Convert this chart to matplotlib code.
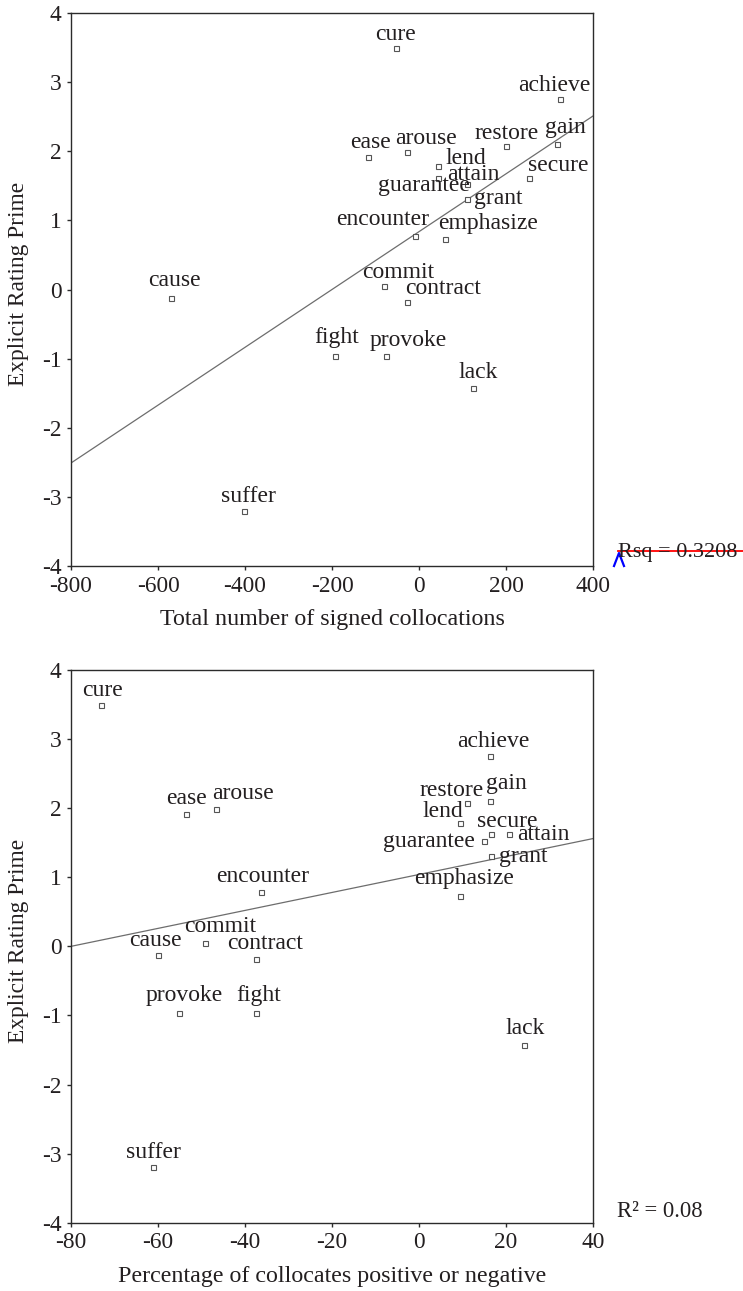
import matplotlib
matplotlib.use("Agg")
import matplotlib.pyplot as plt
from matplotlib.lines import Line2D

# ── data ────────────────────────────────────────────────────────
verbs = ["cure", "achieve", "gain", "restore", "ease", "arouse", "lend",
         "attain", "guarantee", "grant", "secure", "encounter", "emphasize",
         "commit", "contract", "cause", "fight", "provoke", "suffer", "lack"]

rating = [3.5, 2.75, 2.1, 2.07, 1.92, 1.99, 1.79, 1.62, 1.53, 1.31, 1.62,
          0.78, 0.73, 0.05, -0.18, -0.12, -0.96, -0.96, -3.2, -1.43]

total_signed = [-54, 323, 318, 199, -118, -27, 43, 43, 111, 110, 253,
                -10, 60, -80, -27, -570, -194, -75, -403, 124]

pct_collocates = [-73, 16.4, 16.4, 11.1, -53.6, -46.6, 9.4, 20.7, 14.9, 16.5,
                  16.5, -36.3, 9.4, -49.3, -37.5, -60.1, -37.4, -55.2, -61.2, 24.1]

fit_x_top = [-800, 400]
fit_y_top = [-2.51, 2.51]
fit_x_bot = [-80, 40]
fit_y_bot = [0.0, 1.56]

rsq_top = "Rsq = 0.3208"
rsq_bot = "R² = 0.08"

# label offsets (pixels, dx / baseline above marker)
OFF_TOP = {
    "cure": (0, 8), "achieve": (-5, 8), "gain": (8, 11), "restore": (1, 7),
    "ease": (3, 9), "arouse": (19, 8), "lend": (28, 2), "attain": (36, -2),
    "guarantee": (-43, -7), "grant": (31, -5), "secure": (29, 7),
    "encounter": (-32, 11), "emphasize": (43, 10), "commit": (14, 8),
    "contract": (36, 8), "cause": (3, 12), "fight": (2, 13),
    "provoke": (22, 10), "suffer": (5, 9), "lack": (5, 10),
}
OFF_BOT = {
    "cure": (1, 9), "achieve": (3, 9), "gain": (16, 12), "restore": (-16, 7),
    "ease": (1, 10), "arouse": (27, 10), "lend": (-17, 6), "attain": (34, -6),
    "guarantee": (-55, -6), "grant": (32, -6), "secure": (16, 7),
    "encounter": (2, 10), "emphasize": (4, 12), "commit": (16, 11),
    "contract": (9, 10), "cause": (-2, 9), "fight": (2, 12),
    "provoke": (5, 12), "suffer": (1, 9), "lack": (1, 11),
}

W, H = 743, 1291
TXT = "#231f20"
plt.rcParams["font.family"] = ["Liberation Serif", "DejaVu Serif"]
plt.rcParams["font.size"] = 17
plt.rcParams["text.color"] = TXT


def px(x, y):
    return x / W, 1 - y / H


def scatter_panel(ax, xs, ys, offs, fit_x, fit_y, xlim, xticks, xlabel):
    ax.plot(fit_x, fit_y, color="#6d6d6d", lw=0.9, zorder=1)
    ax.plot(xs, ys, ls="none", marker="s", ms=3.6, mfc="white",
            mec="#555555", mew=0.8, zorder=2)
    for v, x, y in zip(verbs, xs, ys):
        dx, dy = offs[v]
        ax.annotate(v, (x, y), xytext=(dx, dy), textcoords="offset pixels",
                    ha="center", va="baseline", fontsize=17, color=TXT,
                    zorder=3)
    ax.set_xlim(*xlim)
    ax.set_ylim(-4, 4)
    ax.set_xticks(xticks)
    ax.set_yticks(range(-4, 5))
    ax.set_xticklabels([str(t) for t in xticks])
    ax.set_yticklabels([str(t) for t in range(-4, 5)])
    for s in ax.spines.values():
        s.set_color("#2b2b2b")
        s.set_linewidth(1.0)
    ax.tick_params(direction="out", length=3, width=1.0, colors="#2b2b2b",
                   labelcolor=TXT, labelsize=16.8, pad=4)
    ax.set_xlabel(xlabel, fontsize=17.3, color=TXT)
    ax.set_ylabel("Explicit Rating Prime", fontsize=16.8, color=TXT)
    ax.yaxis.set_label_coords(-0.1015, 0.51)
    ax.yaxis.label.set_va("center")


fig = plt.figure(figsize=(W / 100, H / 100), dpi=100)

ax1 = fig.add_axes([71 / W, 1 - 566 / H, 522 / W, 553 / H])
scatter_panel(ax1, total_signed, rating, OFF_TOP, fit_x_top, fit_y_top,
              (-800, 400), [-800, -600, -400, -200, 0, 200, 400],
              "Total number of signed collocations")
ax1.xaxis.set_label_coords(0.5, -0.096)
ax1.xaxis.label.set_va("center")

ax2 = fig.add_axes([71 / W, 1 - 1222.7 / H, 522 / W, 552.7 / H])
scatter_panel(ax2, pct_collocates, rating, OFF_BOT, fit_x_bot, fit_y_bot,
              (-80, 40), [-80, -60, -40, -20, 0, 20, 40],
              "Percentage of collocates positive or negative")
ax2.xaxis.set_label_coords(0.5, -0.098)
ax2.xaxis.label.set_va("center")

# Rsq note with editorial strike-through and caret
fig.text(*px(618, 556.7), rsq_top, ha="left", va="baseline", fontsize=16)
fig.add_artist(Line2D([px(618, 0)[0], 1.0], [px(0, 550.7)[1]] * 2,
                      transform=fig.transFigure, color="#ff0000", lw=1.3))
cx = [px(614, 0)[0], px(619, 0)[0], px(624, 0)[0]]
cy = [px(0, 566)[1], px(0, 553)[1], px(0, 566)[1]]
fig.add_artist(Line2D(cx, cy, transform=fig.transFigure, color="#0000ff",
                      lw=1.6))

fig.text(*px(617, 1216.7), rsq_bot, ha="left", va="baseline", fontsize=16.3)

fig.savefig("out.png", dpi=100)
